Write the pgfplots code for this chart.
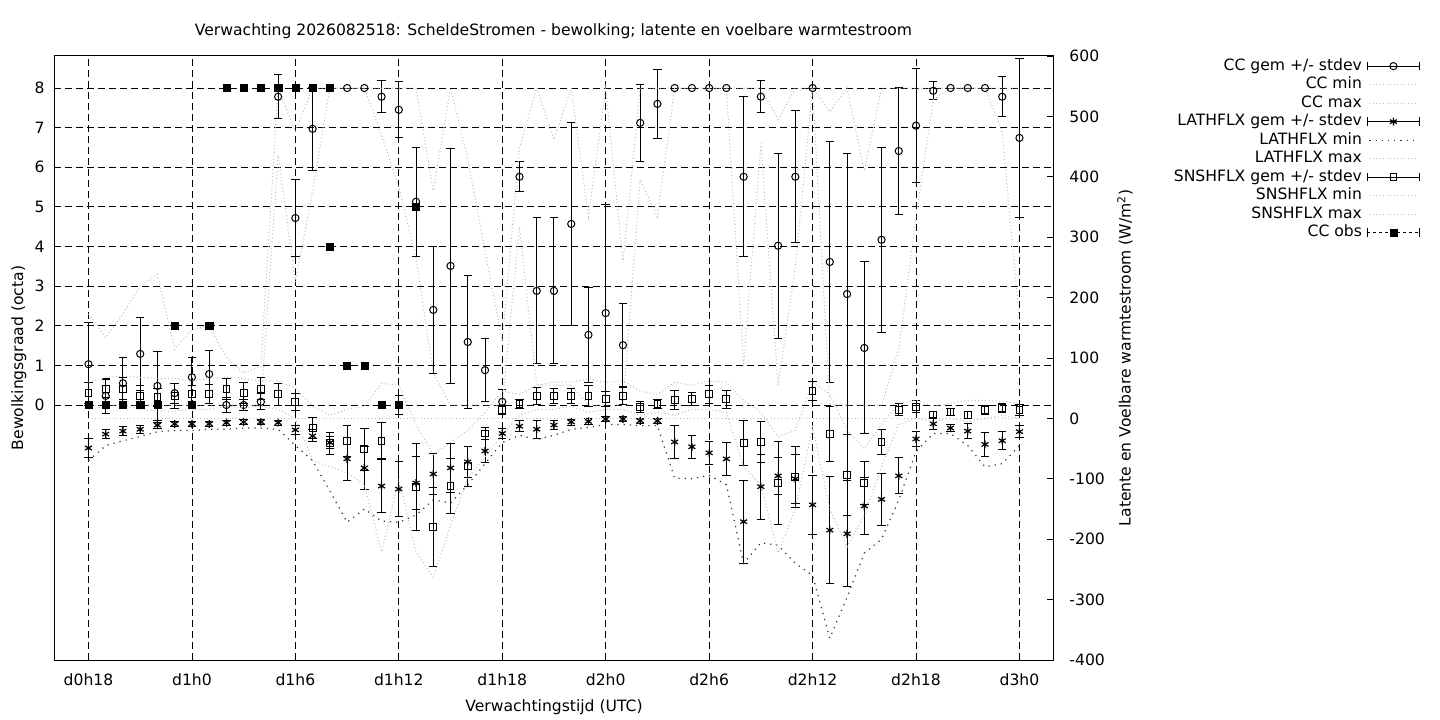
\documentclass[border=0pt]{standalone}
\usepackage{fontspec}
\setmainfont{DejaVu Sans}
\usepackage{pgfplots}
\pgfplotsset{compat=1.18}
\usepackage{pgfplotstable}

\definecolor{lg}{gray}{0.74}
\definecolor{dg}{gray}{0.20}

% h mean sd lo hi  (octa)
\pgfplotstableread{
h mean sd lo hi
18 1.03 1.05 0 2.3
19 0.23 0.45 0 1.7
20 0.55 0.64 0 2.3
21 1.29 0.93 0 3.0
22 0.48 0.86 0 3.3
23 0.30 0.25 0 1.4
24 0.70 0.50 0 1.9
25 0.78 0.60 0 2.0
26 0.00 0.20 0 1.2
27 0.00 0.15 0 0.8
28 0.08 0.20 0 1.0
29 7.78 0.55 6.3 8
30 4.72 0.97 3.1 6.9
31 6.97 1.04 5.4 8
32 8 0 8 8
33 8 0 8 8
34 8 0 8 8
35 7.78 0.40 6.8 8
36 7.45 0.71 5.5 8
37 5.13 1.37 3.7 8
38 2.40 1.60 0.8 5.4
39 3.51 2.97 0 8
40 1.59 1.68 0 6.2
41 0.88 0.80 0 3.9
42 0.08 0.30 0 1.6
43 5.76 0.38 4.5 6.5
44 2.88 1.84 0.5 8
45 2.88 1.84 0.5 6.7
46 4.57 2.56 0.5 8
47 1.77 1.20 0 4.75
48 2.32 2.73 0 8
49 1.51 1.04 0 3.6
50 7.12 0.97 5.7 8
51 7.60 0.87 4.75 8
52 8 0 8 8
53 8 0 8 8
54 8 0 8 8
55 8 0 8 8
56 5.76 2.02 1.0 8
57 7.78 0.40 6.6 8
58 4.02 2.33 0.5 7.2
59 5.76 1.67 3.5 8
60 8 0 8 8
61 3.61 3.03 0 7.4
62 2.80 3.54 0 8
63 1.44 2.17 0 5.9
64 4.17 2.33 0 8
65 6.41 1.60 1.4 8
66 7.05 1.44 4.75 8
67 7.93 0.23 7.7 8
68 8 0 8 8
69 8 0 8 8
70 8 0 8 8
71 7.78 0.50 6.9 8
72 6.74 2.00 2.1 8
}\cctab

% latent heat flux (W/m2)
\pgfplotstableread{
h mean sd lo hi
18 -49 16 -70 0
19 -26 8 -45 0
20 -21 8 -37 0
21 -18 7 -30 0
22 -11 5 -22 0
23 -9 4 -20 0
24 -9 4 -20 0
25 -9 4 -18 0
26 -7 4 -18 0
27 -6 4 -16 0
28 -6 4 -16 0
29 -7 4 -18 0
30 -19 8 -45 0
31 -29 10 -70 0
32 -40 10 -120 0
33 -67 35 -172 0
34 -82 35 -150 0
35 -112 44 -170 0
36 -117 45 -172 0
37 -107 44 -160 0
38 -92 34 -135 0
39 -82 40 -140 0
40 -72 26 -110 0
41 -54 19 -75 0
42 -25 8 -40 0
43 -13 9 -28 0
44 -18 15 -35 0
45 -11 8 -28 0
46 -6 5 -18 0
47 -5 5 -15 0
48 -1 4 -10 0
49 -1 4 -10 0
50 -4 4 -12 0
51 -4 4 -12 0
52 -39 28 -99 0
53 -47 19 -100 0
54 -57 19 -94 0
55 -67 27 -110 0
56 -171 69 -240 0
57 -113 54 -206 0
58 -95 31 -210 0
59 -100 41 -240 0
60 -143 49 -260 0
61 -185 89 -364 0
62 -191 88 -296 0
63 -145 47 -223 0
64 -134 43 -200 0
65 -95 30 -135 0
66 -34 12 -55 0
67 -9 9 -25 0
68 -16 6 -25 0
69 -21 13 -45 0
70 -43 20 -80 0
71 -37 15 -75 0
72 -22 10 -45 0
}\lathtab

% sensible heat flux (W/m2)
\pgfplotstableread{
h mean sd lo hi
18 42 18 15 60
19 49 15 20 68
20 49 18 22 70
21 37 17 15 68
22 35 15 12 66
23 37 20 12 66
24 40 14 15 62
25 40 16 15 66
26 49 17 20 68
27 42 18 18 66
28 49 18 20 62
29 40 18 15 62
30 27 14 0 50
31 -16 18 -70 20
32 -41 18 -80 5
33 -37 26 -90 15
34 -51 35 -110 20
35 -37 30 -221 58
36 22 16 -100 55
37 -113 72 -221 -10
38 -180 65 -263 -60
39 -112 46 -177 -40
40 -79 33 -99 -20
41 -25 10 -64 10
42 14 8 -27 45
43 24 8 5 40
44 37 14 15 55
45 37 12 15 60
46 37 12 20 60
47 37 17 10 65
48 32 12 15 60
49 37 14 15 62
50 19 9 5 45
51 24 8 10 40
52 30 16 5 60
53 32 11 15 55
54 40 15 15 62
55 32 15 10 60
56 -41 37 -80 30
57 -39 34 -110 10
58 -107 68 -223 -30
59 -97 50 -150 -20
60 45 16 -14 60
61 -26 45 -150 40
62 -94 67 -213 -20
63 -107 35 -160 -50
64 -39 20 -80 -10
65 14 10 -10 25
66 19 10 0 30
67 6 5 -5 20
68 11 6 0 25
69 6 6 -5 30
70 14 8 0 30
71 17 8 5 28
72 14 9 0 25
}\snshtab

% observed cloud cover (octa)
\pgfplotstableread{
h obs
18 0
19 0
20 0
21 0
22 0
23 2
24 0
25 2
26 8
27 8
28 8
29 8
30 8
31 8
32 8
32 4
33 1
34 1
35 0
36 0
37 5
}\obstab

\newcommand{\fnt}{\fontsize{15.6bp}{18.5bp}\selectfont}

\pgfplotsset{
  common/.style={
    scale only axis, width=1000bp, height=604bp,
    at={(54bp,60bp)}, anchor=south west,
    xmin=16, xmax=74,
    tick align=inside, major tick length=7bp,
    every tick/.style={black, line width=0.8bp},
    axis line style={black, line width=1bp},
    /pgf/number format/assume math mode=true,
    tick label style={font=\fnt},
    label style={font=\fnt},
    title style={font=\fnt},
  },
  ebar/.style={only marks, black, line width=1bp,
    mark options={solid, fill=white, line width=1bp},
    error bars/y dir=both, error bars/y explicit,
    error bars/error bar style={line width=1bp, black, solid},
    error bars/error mark options={black, line width=1bp, mark size=4.2bp, rotate=90}},
  ebarleg/.style={legend image code/.code={
    \draw[line width=1bp, solid, black] (0bp,0bp) -- (52bp,0bp)
      (0bp,-4.2bp) -- (0bp,4.2bp) (52bp,-4.2bp) -- (52bp,4.2bp);
    \draw[solid] plot coordinates {(26bp,0bp)};}},
  obsleg/.style={legend image code/.code={
    \draw[line width=1bp, black, dash pattern=on 3bp off 3bp] (0bp,0bp) -- (52bp,0bp);
    \draw[line width=1bp, solid, black] (0bp,-4.2bp) -- (0bp,4.2bp) (52bp,-4.2bp) -- (52bp,4.2bp);
    \draw[solid] plot coordinates {(26bp,0bp)};}},
  lineleg/.style={legend image code/.code={
    \draw (2bp,0bp) -- (50bp,0bp);}},
  lgline/.style={lg, line width=1bp, dash pattern=on 1bp off 2.5bp},
  dgline/.style={dg, line width=1.2bp, dash pattern=on 1.2bp off 5bp},
}

\begin{document}
\begin{tikzpicture}[font=\fnt]
\useasboundingbox (0,0) rectangle (1440bp,720bp);

% ---------- left axis: cloud cover ----------
\begin{axis}[common,
  ymin=-6.435, ymax=8.808,
  xtick={18,24,...,72},
  xticklabels={d0h18,d1h0,d1h6,d1h12,d1h18,d2h0,d2h6,d2h12,d2h18,d3h0},
  ytick={0,1,...,8},
  xtick pos=left, ytick pos=left,
  xticklabel style={yshift=-10bp},
  yticklabel style={xshift=-6bp},
  grid=major,
  major grid style={black, line width=0.8bp, dash pattern=on 7bp off 4bp},
  xlabel={Verwachtingstijd (UTC)},
  xlabel style={at={(axis description cs:0.5,-0.0854)}, anchor=base, inner sep=0pt},
  ylabel={Bewolkingsgraad (octa)},
  ylabel style={at={(axis description cs:-0.0352,0.5)}, anchor=center, inner sep=0pt},
  title={Verwachting 2026082518: ScheldeStromen - bewolking; latente en voelbare warmtestroom},
  title style={at={(axis description cs:0.4995,1.0238)}, anchor=base, inner sep=0pt},
]
\addplot[ebar, mark=o, mark size=3.6bp] table[x=h, y=mean, y error=sd] {\cctab};
\addplot[lgline] table[x=h, y=lo] {\cctab};
\addplot[lgline] table[x=h, y=hi] {\cctab};
\end{axis}

% ---------- right axis: heat fluxes ----------
\begin{axis}[common,
  ymin=-400, ymax=600,
  axis x line=none, axis y line*=right,
  ytick={-400,-300,...,600},
  yticklabel style={xshift=12bp},
  ylabel={Latente en Voelbare warmtestroom (W/m\textsuperscript{2})},
  ylabel style={at={(axis description cs:1.071,0.5)}, anchor=center, inner sep=0pt},
  legend cell align=right, legend plot pos=right,
  legend style={at={(axis description cs:1.366,0.9985)}, anchor=north east,
    draw=none, fill=none, inner sep=0pt, outer sep=0pt, font=\fnt,
    row sep=0pt, column sep=5bp,
    nodes={inner xsep=0pt, inner ysep=2bp, text height=11.5bp, text depth=3bp}},
]
\addlegendimage{ebarleg, mark=o, mark size=3.6bp, mark options={solid, fill=white, line width=1bp}}
\addlegendentry{CC gem +/- stdev}
\addlegendimage{lineleg, lgline}
\addlegendentry{CC min}
\addlegendimage{lineleg, lgline}
\addlegendentry{CC max}
\addlegendimage{ebarleg, mark=asterisk, mark size=4bp, mark options={solid, line width=1.2bp}}
\addlegendentry{LATHFLX gem +/- stdev}
\addlegendimage{lineleg, dgline}
\addlegendentry{LATHFLX min}
\addlegendimage{lineleg, lgline}
\addlegendentry{LATHFLX max}
\addlegendimage{ebarleg, mark=square, mark size=3.4bp, mark options={solid, fill=white, line width=1bp}}
\addlegendentry{SNSHFLX gem +/- stdev}
\addlegendimage{lineleg, lgline}
\addlegendentry{SNSHFLX min}
\addlegendimage{lineleg, lgline}
\addlegendentry{SNSHFLX max}
\addlegendimage{obsleg, mark=square*, mark size=3.6bp, mark options={solid, fill=black}}
\addlegendentry{CC obs}

\addplot[ebar, mark=asterisk, mark size=4bp, mark options={solid, line width=1.2bp}, forget plot] table[x=h, y=mean, y error=sd] {\lathtab};
\addplot[dgline, forget plot] table[x=h, y=lo] {\lathtab};
\addplot[lgline, forget plot] table[x=h, y=hi] {\lathtab};
\addplot[ebar, mark=square, mark size=3.4bp, forget plot] table[x=h, y=mean, y error=sd] {\snshtab};
\addplot[lgline, forget plot] table[x=h, y=lo] {\snshtab};
\addplot[lgline, forget plot] table[x=h, y=hi] {\snshtab};
\end{axis}

% ---------- observations on top ----------
\begin{axis}[common, hide axis, ymin=-6.435, ymax=8.808]
\addplot[only marks, mark=square*, mark size=3.6bp, black] table[x=h, y=obs] {\obstab};
\end{axis}
\end{tikzpicture}
\end{document}
